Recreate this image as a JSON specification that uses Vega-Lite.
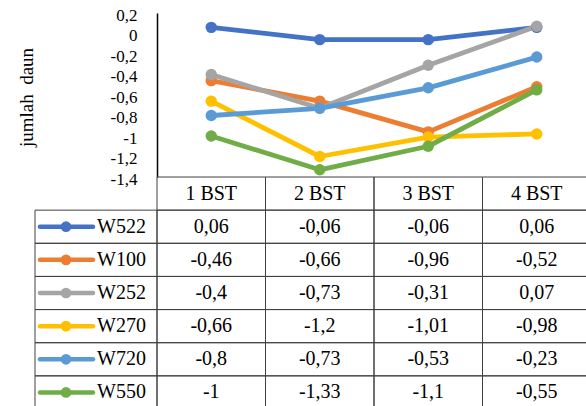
{
  "$schema": "https://vega.github.io/schema/vega-lite/v6.json",
  "padding": {"left": 17, "top": 6, "right": 0, "bottom": 0},
  "background": "white",
  "datasets": {
    "vals": [
      {"series": "W522", "bst": "1 BST", "value": 0.06},
      {"series": "W522", "bst": "2 BST", "value": -0.06},
      {"series": "W522", "bst": "3 BST", "value": -0.06},
      {"series": "W522", "bst": "4 BST", "value": 0.06},
      {"series": "W100", "bst": "1 BST", "value": -0.46},
      {"series": "W100", "bst": "2 BST", "value": -0.66},
      {"series": "W100", "bst": "3 BST", "value": -0.96},
      {"series": "W100", "bst": "4 BST", "value": -0.52},
      {"series": "W252", "bst": "1 BST", "value": -0.4},
      {"series": "W252", "bst": "2 BST", "value": -0.73},
      {"series": "W252", "bst": "3 BST", "value": -0.31},
      {"series": "W252", "bst": "4 BST", "value": 0.07},
      {"series": "W270", "bst": "1 BST", "value": -0.66},
      {"series": "W270", "bst": "2 BST", "value": -1.2},
      {"series": "W270", "bst": "3 BST", "value": -1.01},
      {"series": "W270", "bst": "4 BST", "value": -0.98},
      {"series": "W720", "bst": "1 BST", "value": -0.8},
      {"series": "W720", "bst": "2 BST", "value": -0.73},
      {"series": "W720", "bst": "3 BST", "value": -0.53},
      {"series": "W720", "bst": "4 BST", "value": -0.23},
      {"series": "W550", "bst": "1 BST", "value": -1},
      {"series": "W550", "bst": "2 BST", "value": -1.33},
      {"series": "W550", "bst": "3 BST", "value": -1.1},
      {"series": "W550", "bst": "4 BST", "value": -0.55}
    ],
    "hdr": [
      {"bst": "1 BST", "series": "hdr"},
      {"bst": "2 BST", "series": "hdr"},
      {"bst": "3 BST", "series": "hdr"},
      {"bst": "4 BST", "series": "hdr"}
    ],
    "names": [
      {"series": "W522"}, {"series": "W100"}, {"series": "W252"},
      {"series": "W270"}, {"series": "W720"}, {"series": "W550"}
    ]
  },
  "columns": 2,
  "spacing": 0,
  "bounds": "flush",
  "concat": [
    {
      "width": 122,
      "height": 164,
      "data": {"values": [{"t": ""}]},
      "mark": {"type": "text"},
      "encoding": {"text": {"field": "t"}}
    },
    {
      "width": 434,
      "height": 164,
      "data": {"name": "vals"},
      "encoding": {
        "x": {"field": "bst", "type": "nominal", "scale": {"type": "point", "padding": 0.5, "domain": ["1 BST", "2 BST", "3 BST", "4 BST"]}, "axis": null},
        "y": {
          "field": "value", "type": "quantitative",
          "scale": {"domain": [-1.4, 0.2], "nice": false, "zero": false},
          "axis": {
            "title": "jumlah\u00a0 daun",
            "values": [-1.4, -1.2, -1, -0.8, -0.6, -0.4, -0.2, 0, 0.2],
            "format": ".1~f",
            "ticks": false, "grid": false,
            "domainColor": "#000000", "domainWidth": 1.5,
            "labelFont": "Liberation Serif", "labelFontSize": 17, "labelColor": "#000000",
            "labelPadding": 20, "labelOffset": 2,
            "titleFont": "Liberation Serif", "titleFontSize": 19, "titleFontWeight": "normal", "titleColor": "#000000",
            "titleX": -131, "titleY": 84, "titleBaseline": "middle", "titleAngle": -90, "titleAlign": "center"
          }
        },
        "color": {
          "field": "series", "type": "nominal",
          "scale": {"domain": ["W522", "W100", "W252", "W270", "W720", "W550"], "range": ["#4472C4", "#ED7D31", "#A5A5A5", "#FFC000", "#5B9BD5", "#70AD47"]},
          "legend": null
        }
      },
      "layer": [
        {"mark": {"type": "line", "strokeWidth": 4.8, "strokeJoin": "round", "strokeCap": "round"}},
        {"mark": {"type": "point", "filled": true, "size": 130, "opacity": 1}}
      ]
    },
    {
      "width": 122,
      "height": 232,
      "data": {"name": "names"},
      "encoding": {
        "y": {"field": "series", "type": "nominal", "scale": {"domain": ["hdr", "W522", "W100", "W252", "W270", "W720", "W550"], "paddingInner": 0, "paddingOuter": 0}, "axis": null}
      },
      "layer": [
        {
          "mark": {"type": "rect", "fill": "transparent", "stroke": "#404040", "strokeWidth": 1},
          "encoding": {
            "x": {"datum": 0, "type": "quantitative", "scale": {"domain": [0, 122], "nice": false, "zero": false}, "axis": null},
            "x2": {"datum": 122}
          }
        },
        {
          "mark": {"type": "rule", "strokeWidth": 4.5, "strokeCap": "round"},
          "encoding": {
            "x": {"datum": 5, "type": "quantitative", "scale": {"domain": [0, 122], "nice": false, "zero": false}, "axis": null},
            "x2": {"datum": 58},
            "color": {"field": "series", "type": "nominal", "scale": {"domain": ["W522", "W100", "W252", "W270", "W720", "W550"], "range": ["#4472C4", "#ED7D31", "#A5A5A5", "#FFC000", "#5B9BD5", "#70AD47"]}, "legend": null}
          }
        },
        {
          "mark": {"type": "point", "filled": true, "size": 115, "opacity": 1},
          "encoding": {
            "x": {"datum": 31, "type": "quantitative", "scale": {"domain": [0, 122], "nice": false, "zero": false}, "axis": null},
            "color": {"field": "series", "type": "nominal", "scale": {"domain": ["W522", "W100", "W252", "W270", "W720", "W550"], "range": ["#4472C4", "#ED7D31", "#A5A5A5", "#FFC000", "#5B9BD5", "#70AD47"]}, "legend": null}
          }
        },
        {
          "mark": {"type": "text", "align": "left", "baseline": "middle", "font": "Liberation Serif", "fontSize": 20, "color": "#000000"},
          "encoding": {
            "x": {"datum": 62, "type": "quantitative", "scale": {"domain": [0, 122], "nice": false, "zero": false}, "axis": null},
            "text": {"field": "series"}
          }
        }
      ]
    },
    {
      "width": 434,
      "height": 232,
      "encoding": {
        "x": {"field": "bst", "type": "nominal", "scale": {"domain": ["1 BST", "2 BST", "3 BST", "4 BST"], "paddingInner": 0, "paddingOuter": 0}, "axis": null},
        "y": {"field": "series", "type": "nominal", "scale": {"domain": ["hdr", "W522", "W100", "W252", "W270", "W720", "W550"], "paddingInner": 0, "paddingOuter": 0}, "axis": null}
      },
      "layer": [
        {"data": {"name": "vals"}, "mark": {"type": "rect", "fill": "transparent", "stroke": "#404040", "strokeWidth": 1}},
        {"data": {"name": "hdr"}, "mark": {"type": "rect", "fill": "transparent", "stroke": "#404040", "strokeWidth": 1}},
        {
          "data": {"name": "vals"},
          "mark": {"type": "text", "align": "center", "baseline": "middle", "font": "Liberation Serif", "fontSize": 20, "color": "#000000"},
          "encoding": {"text": {"field": "value", "type": "quantitative", "format": ".2~f"}}
        },
        {
          "data": {"name": "hdr"},
          "mark": {"type": "text", "align": "center", "baseline": "middle", "font": "Liberation Serif", "fontSize": 20, "color": "#000000"},
          "encoding": {"text": {"field": "bst"}}
        }
      ]
    }
  ],
  "resolve": {"scale": {"x": "independent", "y": "independent"}},
  "config": {
    "view": {"stroke": null},
    "font": "Liberation Serif",
    "locale": {"number": {"decimal": ",", "thousands": ".", "grouping": [3], "currency": ["", ""], "minus": "-"}}
  }
}
